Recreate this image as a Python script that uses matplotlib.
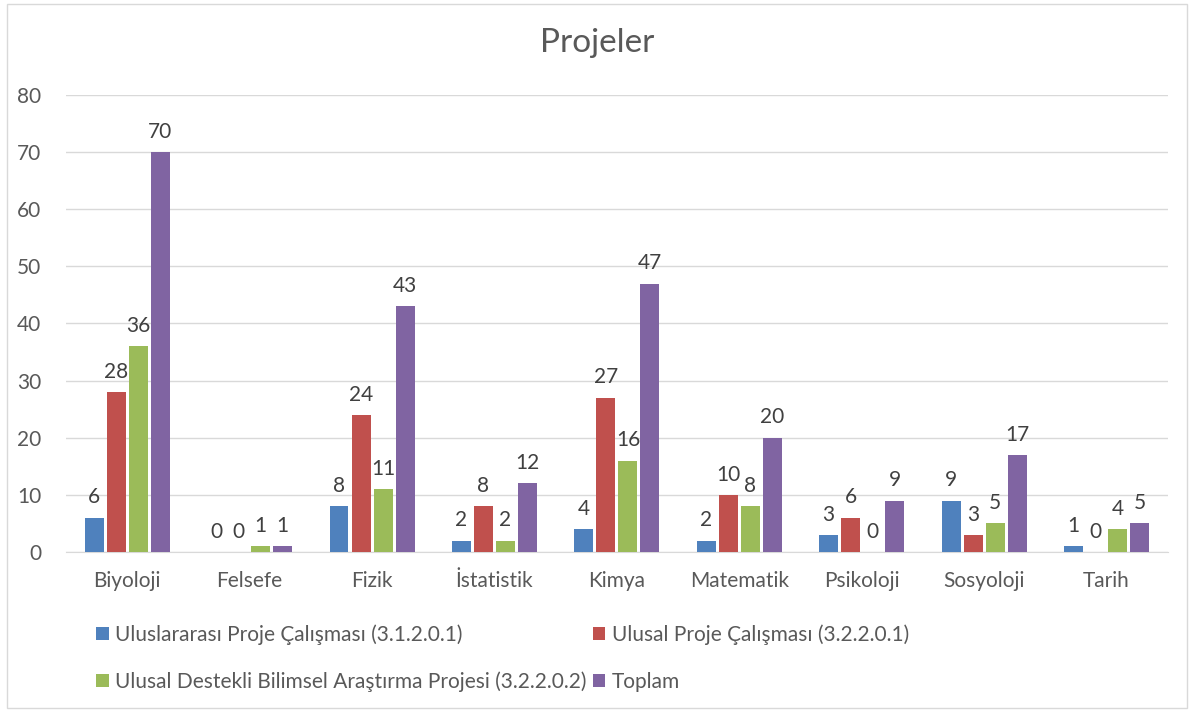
import matplotlib.pyplot as plt
from matplotlib.patches import Rectangle
import numpy as np

plt.rcParams['font.family'] = ['Lato', 'DejaVu Sans']

categories = ['Biyoloji', 'Felsefe', 'Fizik', 'İstatistik', 'Kimya',
              'Matematik', 'Psikoloji', 'Sosyoloji', 'Tarih']
uluslararasi = [6, 0, 8, 2, 4, 2, 3, 9, 1]
ulusal = [28, 0, 24, 8, 27, 10, 6, 3, 0]
destekli = [36, 1, 11, 2, 16, 8, 0, 5, 4]
toplam = [70, 1, 43, 12, 47, 20, 9, 17, 5]

series = [
    ('Uluslararası Proje Çalışması (3.1.2.0.1)', uluslararasi, '#4F81BD'),
    ('Ulusal Proje Çalışması (3.2.2.0.1)', ulusal, '#C0504D'),
    ('Ulusal Destekli Bilimsel Araştırma Projesi (3.2.2.0.2)', destekli, '#9BBB59'),
    ('Toplam', toplam, '#8064A2'),
]

txt = '#595959'
fig = plt.figure(figsize=(11.94, 7.12), dpi=100)
ax = fig.add_axes([0.0553, 0.2247, 0.9227, 0.6419])

x = np.arange(len(categories))
step = 0.18
width = 0.155
handles = []
for i, (name, vals, col) in enumerate(series):
    pos = x + (i - 1.5) * step
    bars = ax.bar(pos, vals, width, color=col, label=name, zorder=3)
    handles.append(bars)
    for p, v in zip(pos, vals):
        ax.text(p, v + 1.8, str(v), ha='center', va='bottom',
                fontsize=15, color='#404040')

ax.set_ylim(0, 80)
ax.set_xlim(-0.5, len(categories) - 0.5)
ax.set_yticks(range(0, 81, 10))
ax.set_xticks(x)
ax.set_xticklabels(categories)
ax.tick_params(axis='both', length=0, labelsize=15, labelcolor=txt)
ax.tick_params(axis='x', pad=14)
ax.tick_params(axis='y', pad=18)
ax.grid(axis='y', color='#D9D9D9', linewidth=1, zorder=0)
for s in ['top', 'right', 'left']:
    ax.spines[s].set_visible(False)
ax.spines['bottom'].set_color('#D9D9D9')

fig.text(0.5, 0.94, 'Projeler', ha='center', va='center',
         fontsize=24, color=txt)

order = [handles[0], handles[2], handles[1], handles[3]]
labels = [series[0][0], series[2][0], series[1][0], series[3][0]]
leg = fig.legend(order, labels, ncol=2, loc='upper left',
                 bbox_to_anchor=(0.065, 0.15), frameon=False,
                 fontsize=15, labelcolor=txt, handlelength=0.6,
                 handleheight=0.6, handletextpad=0.3, columnspacing=0.3,
                 labelspacing=1.3)

fig.patches.append(Rectangle((0.006, 0.006), 0.988, 0.988,
                             transform=fig.transFigure, fill=False,
                             edgecolor='#D9D9D9', linewidth=1))

fig.savefig('out.png', dpi=100)
